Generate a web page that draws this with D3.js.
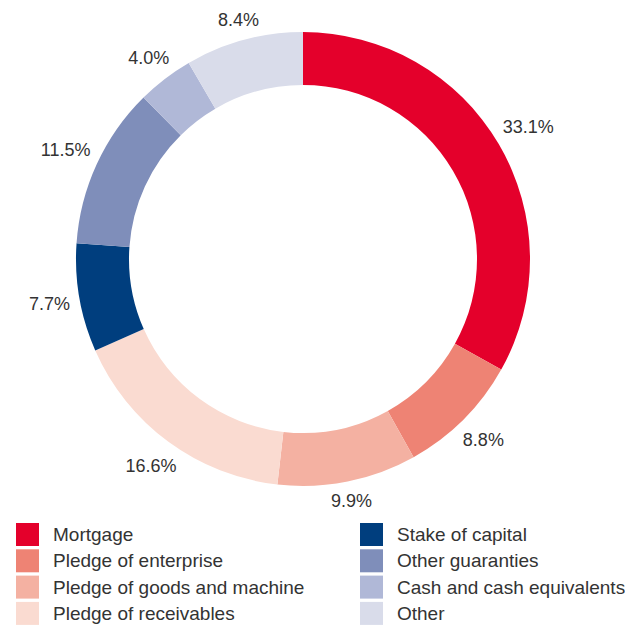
<!DOCTYPE html>
<html>
<head>
<meta charset="utf-8">
<script src="https://cdn.jsdelivr.net/npm/d3@7"></script>
<style>
  html, body { margin: 0; padding: 0; background: #fff; }
  svg { display: block; }
  text { font-family: "Liberation Sans", Arial, sans-serif; fill: #333333; }
</style>
</head>
<body>
<svg id="chart" width="625" height="625"></svg>
<script>
// Collateral breakdown (percent of total)
const categories = [
  "Mortgage",
  "Pledge of enterprise",
  "Pledge of goods and machine",
  "Pledge of receivables",
  "Stake of capital",
  "Other guaranties",
  "Cash and cash equivalents",
  "Other"
];
const shares = [33.1, 8.8, 9.9, 16.6, 7.7, 11.5, 4.0, 8.4];
const palette = ["#E4002B", "#EE8374", "#F4B1A2", "#FADBD1", "#003E7E", "#7F8EBA", "#B0B8D7", "#D9DCEA"];

// Legend layout: left column first, then right column
const legendColumns = [categories.slice(0, 4), categories.slice(4)];

const svg = d3.select("#chart");
const cx = 303, cy = 259;
const outerR = 227, innerR = 174, labelGap = 236;
const labelSize = 18, legendSize = 19;

const data = categories.map((c, i) => ({ name: c, value: shares[i] }));
const pie = d3.pie().value(d => d.value).sort(null);
const arc = d3.arc().innerRadius(innerR).outerRadius(outerR);
const color = d3.scaleOrdinal().domain(categories).range(palette);

const g = svg.append("g").attr("transform", `translate(${cx},${cy})`);
const arcs = pie(data);

g.selectAll("path.slice")
  .data(arcs)
  .join("path")
  .attr("class", "slice")
  .attr("d", arc)
  .attr("fill", d => color(d.data.name));

// Value labels: the text box is pushed out along the mid-angle so that
// its nearest edge sits a fixed distance from the centre
const labels = g.selectAll("text.val")
  .data(arcs)
  .join("text")
  .attr("class", "val")
  .attr("text-anchor", "middle")
  .style("font-size", labelSize + "px")
  .text(d => d3.format(".1f")(d.data.value) + "%");

labels.each(function(d) {
  const a = (d.startAngle + d.endAngle) / 2;
  const hw = this.getComputedTextLength() / 2;
  const hh = labelSize * 0.36;
  const r = labelGap + hw * Math.abs(Math.sin(a)) + hh * Math.abs(Math.cos(a));
  const x = r * Math.sin(a);
  const y = -r * Math.cos(a);
  d3.select(this).attr("x", x).attr("y", y + hh);
});

// Legend
const legendX = [16, 360];
const legendY0 = 523, rowH = 26.3, sw = 23;
legendColumns.forEach((col, ci) => {
  const lg = svg.append("g").attr("transform", `translate(${legendX[ci]},${legendY0})`);
  const rows = lg.selectAll("g").data(col).join("g")
    .attr("transform", (d, i) => `translate(0,${i * rowH})`);
  rows.append("rect")
    .attr("width", sw).attr("height", sw)
    .attr("fill", d => color(d));
  rows.append("text")
    .attr("x", 37)
    .attr("y", sw / 2 + 6.5)
    .style("font-size", legendSize + "px")
    .text(d => d);
});
</script>
</body>
</html>
